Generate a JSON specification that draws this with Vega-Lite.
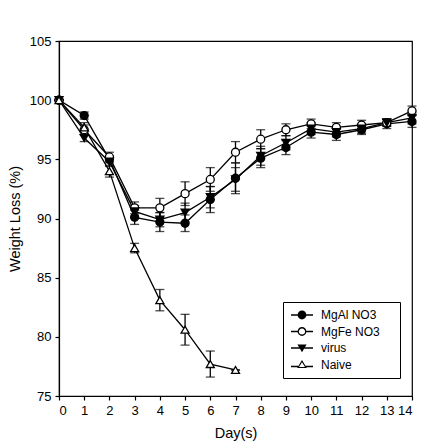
{
  "$schema": "https://vega.github.io/schema/vega-lite/v6.json",
  "width": 353,
  "height": 355,
  "autosize": {"type": "none"},
  "padding": {"left": 59, "top": 41, "right": 36, "bottom": 52},
  "background": "white",
  "config": {
    "view": {"stroke": "black", "strokeWidth": 1.2},
    "font": "Liberation Sans",
    "axis": {"domainColor": "black", "tickColor": "black", "labelColor": "black", "titleColor": "black", "grid": false, "labelFontSize": 13, "titleFontSize": 14.5, "titleFontWeight": "normal", "domainWidth": 1.2, "tickWidth": 1.2, "tickSize": 4}
  },
  "data": {"values": [
    {"day": 0, "series": "MgAl NO3", "value": 100, "err": 0},
    {"day": 1, "series": "MgAl NO3", "value": 98.7, "err": 0.3},
    {"day": 2, "series": "MgAl NO3", "value": 95.0, "err": 0.3},
    {"day": 3, "series": "MgAl NO3", "value": 90.1, "err": 0.6},
    {"day": 4, "series": "MgAl NO3", "value": 89.7, "err": 0.8},
    {"day": 5, "series": "MgAl NO3", "value": 89.6, "err": 0.7},
    {"day": 6, "series": "MgAl NO3", "value": 91.6, "err": 1.1},
    {"day": 7, "series": "MgAl NO3", "value": 93.4, "err": 1.3},
    {"day": 8, "series": "MgAl NO3", "value": 95.1, "err": 0.8},
    {"day": 9, "series": "MgAl NO3", "value": 96.0, "err": 0.6},
    {"day": 10, "series": "MgAl NO3", "value": 97.3, "err": 0.5},
    {"day": 11, "series": "MgAl NO3", "value": 97.1, "err": 0.5},
    {"day": 12, "series": "MgAl NO3", "value": 97.5, "err": 0.4},
    {"day": 13, "series": "MgAl NO3", "value": 98.0, "err": 0.4},
    {"day": 14, "series": "MgAl NO3", "value": 98.2, "err": 0.5},
    {"day": 0, "series": "MgFe NO3", "value": 100, "err": 0},
    {"day": 1, "series": "MgFe NO3", "value": 97.5, "err": 0.4},
    {"day": 2, "series": "MgFe NO3", "value": 95.2, "err": 0.4},
    {"day": 3, "series": "MgFe NO3", "value": 90.9, "err": 0.5},
    {"day": 4, "series": "MgFe NO3", "value": 90.9, "err": 0.8},
    {"day": 5, "series": "MgFe NO3", "value": 92.1, "err": 1.0},
    {"day": 6, "series": "MgFe NO3", "value": 93.3, "err": 1.0},
    {"day": 7, "series": "MgFe NO3", "value": 95.6, "err": 0.9},
    {"day": 8, "series": "MgFe NO3", "value": 96.7, "err": 0.8},
    {"day": 9, "series": "MgFe NO3", "value": 97.5, "err": 0.5},
    {"day": 10, "series": "MgFe NO3", "value": 98.0, "err": 0.4},
    {"day": 11, "series": "MgFe NO3", "value": 97.7, "err": 0.4},
    {"day": 12, "series": "MgFe NO3", "value": 97.9, "err": 0.4},
    {"day": 13, "series": "MgFe NO3", "value": 98.1, "err": 0.3},
    {"day": 14, "series": "MgFe NO3", "value": 99.1, "err": 0.4},
    {"day": 0, "series": "virus", "value": 100, "err": 0},
    {"day": 1, "series": "virus", "value": 96.8, "err": 0.3},
    {"day": 2, "series": "virus", "value": 94.8, "err": 0.4},
    {"day": 3, "series": "virus", "value": 90.6, "err": 0.5},
    {"day": 4, "series": "virus", "value": 89.9, "err": 0.6},
    {"day": 5, "series": "virus", "value": 90.5, "err": 0.8},
    {"day": 6, "series": "virus", "value": 91.8, "err": 0.9},
    {"day": 7, "series": "virus", "value": 93.3, "err": 1.0},
    {"day": 8, "series": "virus", "value": 95.3, "err": 0.8},
    {"day": 9, "series": "virus", "value": 96.4, "err": 0.6},
    {"day": 10, "series": "virus", "value": 97.6, "err": 0.5},
    {"day": 11, "series": "virus", "value": 97.3, "err": 0.4},
    {"day": 12, "series": "virus", "value": 97.6, "err": 0.4},
    {"day": 13, "series": "virus", "value": 98.1, "err": 0.3},
    {"day": 14, "series": "virus", "value": 98.5, "err": 0.5},
    {"day": 0, "series": "Naive", "value": 100, "err": 0},
    {"day": 1, "series": "Naive", "value": 97.7, "err": 0.4},
    {"day": 2, "series": "Naive", "value": 94.0, "err": 0.5},
    {"day": 3, "series": "Naive", "value": 87.5, "err": 0.4},
    {"day": 4, "series": "Naive", "value": 83.1, "err": 0.9},
    {"day": 5, "series": "Naive", "value": 80.6, "err": 1.3},
    {"day": 6, "series": "Naive", "value": 77.7, "err": 1.1},
    {"day": 7, "series": "Naive", "value": 77.2, "err": 0}
  ]},
  "encoding": {
    "x": {"field": "day", "type": "quantitative", "scale": {"domain": [0, 14], "nice": false}, "axis": {"values": [0,1,2,3,4,5,6,7,8,9,10,11,12,13,14], "title": "Day(s)", "titlePadding": 9, "labelPadding": 4}},
    "y": {"field": "value", "type": "quantitative", "scale": {"domain": [75, 105], "nice": false, "zero": false}, "axis": {"values": [75,80,85,90,95,100,105], "title": "Weight Loss (%)", "titlePadding": 7, "labelPadding": 4}}
  },
  "resolve": {"scale": {"shape": "independent"}, "legend": {"shape": "independent"}},
  "layer": [
    {
      "mark": {"type": "line", "color": "black", "strokeWidth": 1.3},
      "encoding": {"detail": {"field": "series"}}
    },
    {
      "mark": {"type": "errorbar", "ticks": {"size": 9, "thickness": 1.3, "color": "black"}, "rule": {"strokeWidth": 1.3, "color": "black"}},
      "encoding": {
        "y": {"field": "value", "type": "quantitative"},
        "yError": {"field": "err"},
        "detail": {"field": "series"}
      }
    },
    {
      "mark": {"type": "point", "size": 64, "stroke": "black", "strokeWidth": 1.3, "opacity": 1, "filled": false},
      "encoding": {
        "shape": {"field": "series", "type": "nominal", "scale": {"domain": ["MgAl NO3", "MgFe NO3", "virus", "Naive"], "range": ["circle", "circle", "triangle-down", "triangle-up"]}, "legend": null},
        "fill": {"field": "series", "type": "nominal", "scale": {"domain": ["MgAl NO3", "MgFe NO3", "virus", "Naive"], "range": ["black", "white", "black", "white"]}, "legend": null}
      }
    },
    {
      "transform": [{"filter": "datum.day < 0"}],
      "mark": {"type": "point", "size": 64, "filled": true, "color": "black", "strokeWidth": 0, "opacity": 1},
      "encoding": {
        "shape": {"field": "series", "type": "nominal",
          "scale": {"domain": ["MgAl NO3", "MgFe NO3", "virus", "Naive"],
            "range": [
              "M-2.75,-0.16H2.75V0.16H-2.75ZM1.1,0A1.1,1.1 0 1,1 -1.1,0A1.1,1.1 0 1,1 1.1,0Z",
              "M-2.75,-0.16H-1.05V0.16H-2.75ZM1.05,-0.16H2.75V0.16H1.05ZM1.1,0A1.1,1.1 0 1,1 -1.1,0A1.1,1.1 0 1,1 1.1,0ZM0.78,0A0.78,0.78 0 1,0 -0.78,0A0.78,0.78 0 1,0 0.78,0Z",
              "M-2.75,-0.16H2.75V0.16H-2.75ZM-1.15,-0.9L1.15,-0.9L0,1.05Z",
              "M-2.75,0.34H-0.95V0.66H-2.75ZM0.95,0.34H2.75V0.66H0.95ZM0,-1.15L1.2,0.85L-1.2,0.85ZM0,-0.55L-0.75,0.6L0.75,0.6Z"
            ]},
          "legend": {
            "title": null, "orient": "none", "legendX": 224, "legendY": 261,
            "strokeColor": "black", "fillColor": "white", "padding": 7,
            "labelFontSize": 12, "labelColor": "black", "labelOffset": 13, "symbolOffset": 6, "rowPadding": 4.5,
            "symbolSize": 64, "symbolStrokeWidth": 0, "symbolFillColor": "black",
            "labelExpr": "datum.label + '\u00a0\u2800'"
          }}
      }
    }
  ]
}
